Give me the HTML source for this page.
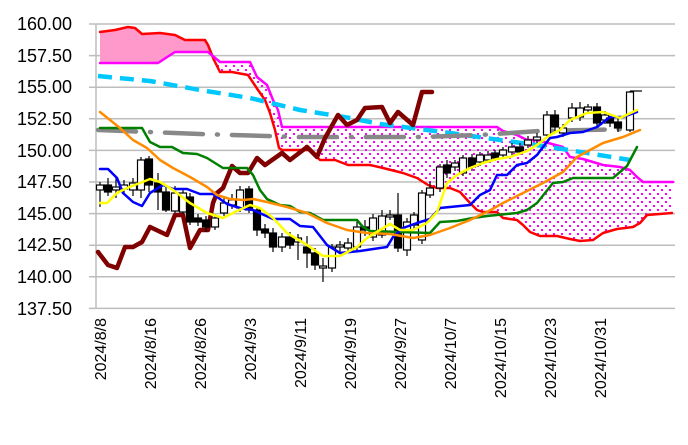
<!DOCTYPE html>
<html><head><meta charset="utf-8"><style>
html,body{margin:0;padding:0;background:#fff;}
svg{display:block;}
text{font-family:"Liberation Sans",sans-serif;}
</style></head><body>
<svg width="688" height="445" viewBox="0 0 688 445" xmlns="http://www.w3.org/2000/svg">
<defs>
<pattern id="dots" width="8" height="8" patternUnits="userSpaceOnUse">
<rect x="1" y="1" width="2" height="2" fill="#f0f"/>
<rect x="5" y="5" width="2" height="2" fill="#f0f"/>
</pattern>
<clipPath id="cl"><rect x="0" y="0" width="213" height="445"/></clipPath>
<clipPath id="cr"><rect x="213" y="0" width="475" height="445"/></clipPath>
</defs>
<g stroke="#bdbdbd" stroke-width="1.5">
<line x1="89" y1="24" x2="675" y2="24"/><line x1="89" y1="55.6" x2="675" y2="55.6"/>
<line x1="89" y1="87.2" x2="675" y2="87.2"/><line x1="89" y1="118.8" x2="675" y2="118.8"/>
<line x1="89" y1="150.4" x2="675" y2="150.4"/><line x1="89" y1="182" x2="675" y2="182"/>
<line x1="89" y1="213.6" x2="675" y2="213.6"/><line x1="89" y1="245.2" x2="675" y2="245.2"/>
<line x1="89" y1="276.8" x2="675" y2="276.8"/><line x1="89" y1="308.4" x2="675" y2="308.4"/>
<line x1="96" y1="24" x2="96" y2="308.4"/>
</g>
<g font-size="18" text-anchor="end" fill="#000">
<text x="72" y="30">160.00</text><text x="72" y="62">157.50</text><text x="72" y="93">155.00</text>
<text x="72" y="125">152.50</text><text x="72" y="157">150.00</text><text x="72" y="188">147.50</text>
<text x="72" y="220">145.00</text><text x="72" y="251">142.50</text><text x="72" y="283">140.00</text>
<text x="72" y="315">137.50</text>
</g>
<g font-size="16" text-anchor="end" fill="#000">
<text transform="translate(106,318) rotate(-90)">2024/8/8</text>
<text transform="translate(156,318) rotate(-90)">2024/8/16</text>
<text transform="translate(206,318) rotate(-90)">2024/8/26</text>
<text transform="translate(256,318) rotate(-90)">2024/9/3</text>
<text transform="translate(306,318) rotate(-90)">2024/9/11</text>
<text transform="translate(356,318) rotate(-90)">2024/9/19</text>
<text transform="translate(406,318) rotate(-90)">2024/9/27</text>
<text transform="translate(456,318) rotate(-90)">2024/10/7</text>
<text transform="translate(506,318) rotate(-90)">2024/10/15</text>
<text transform="translate(556,318) rotate(-90)">2024/10/23</text>
<text transform="translate(606,318) rotate(-90)">2024/10/31</text>
</g>
<g>
<polygon clip-path="url(#cl)" fill="#ff99cc" points="100,32 115,30 128,27 135,28 142,34 160,33 175,35 185,40 205,40 208,45 214,60 220,72 232,72 248,75 258,90 265,100 270,113 275,130 279,148 282,150 300,150 310,150 320,160 335,160 348,165 370,165 383,168 403,173 417,178 428,185 437,188 450,188 460,192 470,203 477,210 483,212 497,212 503,218 517,220 523,225 530,232 540,236 557,236 570,239 580,241 593,240 603,233 617,229 633,227 640,223 647,215 672,213 673,182 643,182 637,177 630,170 620,167 603,165 583,159 570,157 563,147 537,140 527,140 517,135 503,131 497,127 282,127 278,110 273,100 267,85 257,77 250,62 220,62 208,52 175,52 158,63 100,63"/>
<polygon clip-path="url(#cr)" fill="url(#dots)" points="100,32 115,30 128,27 135,28 142,34 160,33 175,35 185,40 205,40 208,45 214,60 220,72 232,72 248,75 258,90 265,100 270,113 275,130 279,148 282,150 300,150 310,150 320,160 335,160 348,165 370,165 383,168 403,173 417,178 428,185 437,188 450,188 460,192 470,203 477,210 483,212 497,212 503,218 517,220 523,225 530,232 540,236 557,236 570,239 580,241 593,240 603,233 617,229 633,227 640,223 647,215 672,213 673,182 643,182 637,177 630,170 620,167 603,165 583,159 570,157 563,147 537,140 527,140 517,135 503,131 497,127 282,127 278,110 273,100 267,85 257,77 250,62 220,62 208,52 175,52 158,63 100,63"/>
</g>
<g fill="none" stroke-linejoin="round" stroke-linecap="round">
<polyline stroke="#ff0000" stroke-width="2.5" points="100,32 115,30 128,27 135,28 142,34 160,33 175,35 185,40 205,40 208,45 214,60 220,72 232,72 248,75 258,90 265,100 270,113 275,130 279,148 282,150 300,150 310,150 320,160 335,160 348,165 370,165 383,168 403,173 417,178 428,185 437,188 450,188 460,192 470,203 477,210 483,212 497,212 503,218 517,220 523,225 530,232 540,236 557,236 570,239 580,241 593,240 603,233 617,229 633,227 640,223 647,215 672,213"/>
<polyline stroke="#ff00ff" stroke-width="2.5" points="100,63 158,63 175,52 208,52 220,62 250,62 257,77 267,85 273,100 278,110 282,127 497,127 503,131 517,135 527,140 537,140 563,147 570,157 583,159 603,165 620,167 630,170 637,177 643,182 673,182"/>
<polyline stroke="#00c8ff" stroke-width="4.5" stroke-dasharray="14 8" stroke-linecap="butt" points="98,76 150,81 200,90 250,98 300,110 350,118 380,124 450,133 500,140 550,147 630,160"/>
<polyline stroke="#888" stroke-width="4.5" stroke-dasharray="38 14 1 14" points="98,130 200,134 300,137 420,137 480,135 540,131 632,129"/>
<polyline stroke="#800000" stroke-width="4.5" points="98,252 108,265 117,268 125,247 133,247 142,242 150,227 167,235 175,215 183,215 190,248 200,230 208,230 213,203 217,193 223,188 232,166 240,173 248,173 257,158 265,165 282,153 290,160 307,147 317,157 325,138 338,115 347,125 357,120 365,108 382,107 390,123 398,112 413,125 422,92 432,92"/>
</g>
<g stroke="#000" stroke-width="1.2">
<line x1="100" y1="182" x2="100" y2="207"/><rect x="96.5" y="185" width="7" height="5" fill="#fff"/>
<line x1="108" y1="178" x2="108" y2="196"/><rect x="104.5" y="185" width="7" height="7" fill="#000"/>
<line x1="116" y1="178" x2="116" y2="198"/><rect x="112.5" y="187" width="7" height="3" fill="#fff"/>
<line x1="124" y1="180" x2="124" y2="195"/><rect x="120.5" y="185" width="7" height="4" fill="#fff"/>
<line x1="133" y1="178" x2="133" y2="196"/><rect x="129.5" y="183" width="7" height="7" fill="#fff"/>
<line x1="141" y1="157" x2="141" y2="198"/><rect x="137.5" y="160" width="7" height="30" fill="#fff"/>
<line x1="149" y1="156" x2="149" y2="192"/><rect x="145.5" y="159" width="7" height="26" fill="#000"/>
<line x1="158" y1="173" x2="158" y2="210"/><rect x="154.5" y="183" width="7" height="9" fill="#000"/>
<line x1="166" y1="186" x2="166" y2="212"/><rect x="162.5" y="192" width="7" height="18" fill="#000"/>
<line x1="175" y1="186" x2="175" y2="213"/><rect x="171.5" y="193" width="7" height="18" fill="#fff"/>
<line x1="183" y1="190" x2="183" y2="214"/><rect x="179.5" y="193" width="7" height="19" fill="#fff"/>
<line x1="190" y1="193" x2="190" y2="225"/><rect x="186.5" y="197" width="7" height="25" fill="#000"/>
<line x1="198" y1="214" x2="198" y2="226"/><rect x="194.5" y="218" width="7" height="4" fill="#000"/>
<line x1="206" y1="216" x2="206" y2="232"/><rect x="202.5" y="220" width="7" height="7" fill="#000"/>
<line x1="215" y1="214" x2="215" y2="230"/><rect x="211.5" y="218" width="7" height="9" fill="#fff"/>
<line x1="224" y1="198" x2="224" y2="216"/><rect x="220.5" y="203" width="7" height="10" fill="#fff"/>
<line x1="232" y1="194" x2="232" y2="209"/><rect x="228.5" y="200" width="7" height="5" fill="#fff"/>
<line x1="240" y1="186" x2="240" y2="212"/><rect x="236.5" y="190" width="7" height="18" fill="#fff"/>
<line x1="249" y1="186" x2="249" y2="213"/><rect x="245.5" y="189" width="7" height="21" fill="#000"/>
<line x1="257" y1="206" x2="257" y2="236"/><rect x="253.5" y="210" width="7" height="20" fill="#000"/>
<line x1="265" y1="224" x2="265" y2="238"/><rect x="261.5" y="229" width="7" height="4" fill="#000"/>
<line x1="273" y1="228" x2="273" y2="252"/><rect x="269.5" y="233" width="7" height="14" fill="#000"/>
<line x1="282" y1="233" x2="282" y2="252"/><rect x="278.5" y="237" width="7" height="10" fill="#fff"/>
<line x1="290" y1="232" x2="290" y2="249"/><rect x="286.5" y="237" width="7" height="8" fill="#000"/>
<line x1="298" y1="234" x2="298" y2="260"/><rect x="294.5" y="238" width="7" height="4" fill="#fff"/>
<line x1="307" y1="236" x2="307" y2="268"/><rect x="303.5" y="247" width="7" height="6" fill="#000"/>
<line x1="315" y1="248" x2="315" y2="270"/><rect x="311.5" y="253" width="7" height="12" fill="#000"/>
<line x1="323" y1="258" x2="323" y2="282"/><rect x="319.5" y="266" width="7" height="2" fill="#fff"/>
<line x1="332" y1="244" x2="332" y2="272"/><rect x="328.5" y="247" width="7" height="21" fill="#fff"/>
<line x1="340" y1="241" x2="340" y2="252"/><rect x="336.5" y="245" width="7" height="2" fill="#fff"/>
<line x1="348" y1="238" x2="348" y2="253"/><rect x="344.5" y="243" width="7" height="5" fill="#fff"/>
<line x1="357" y1="221" x2="357" y2="252"/><rect x="353.5" y="227" width="7" height="20" fill="#fff"/>
<line x1="365" y1="220" x2="365" y2="236"/><rect x="361.5" y="227" width="7" height="3" fill="#000"/>
<line x1="373" y1="214" x2="373" y2="241"/><rect x="369.5" y="218" width="7" height="19" fill="#fff"/>
<line x1="382" y1="210" x2="382" y2="238"/><rect x="378.5" y="216" width="7" height="19" fill="#fff"/>
<line x1="390" y1="210" x2="390" y2="220"/><rect x="386.5" y="215" width="7" height="2" fill="#fff"/>
<line x1="398" y1="193" x2="398" y2="252"/><rect x="394.5" y="215" width="7" height="33" fill="#000"/>
<line x1="407" y1="218" x2="407" y2="256"/><rect x="403.5" y="222" width="7" height="28" fill="#fff"/>
<line x1="414" y1="212" x2="414" y2="230"/><rect x="410.5" y="215" width="7" height="10" fill="#fff"/>
<line x1="422" y1="190" x2="422" y2="244"/><rect x="418.5" y="193" width="7" height="47" fill="#fff"/>
<line x1="430" y1="182" x2="430" y2="198"/><rect x="426.5" y="188" width="7" height="7" fill="#fff"/>
<line x1="440" y1="164" x2="440" y2="192"/><rect x="436.5" y="167" width="7" height="21" fill="#fff"/>
<line x1="447" y1="160" x2="447" y2="178"/><rect x="443.5" y="165" width="7" height="8" fill="#000"/>
<line x1="455" y1="160" x2="455" y2="171"/><rect x="451.5" y="163" width="7" height="4" fill="#fff"/>
<line x1="463" y1="155" x2="463" y2="176"/><rect x="459.5" y="158" width="7" height="15" fill="#fff"/>
<line x1="472" y1="154" x2="472" y2="171"/><rect x="468.5" y="158" width="7" height="9" fill="#000"/>
<line x1="480" y1="152" x2="480" y2="166"/><rect x="476.5" y="155" width="7" height="7" fill="#fff"/>
<line x1="488" y1="151" x2="488" y2="163"/><rect x="484.5" y="155" width="7" height="5" fill="#fff"/>
<line x1="495" y1="150" x2="495" y2="161"/><rect x="491.5" y="153" width="7" height="5" fill="#000"/>
<line x1="503" y1="147" x2="503" y2="158"/><rect x="499.5" y="150" width="7" height="5" fill="#fff"/>
<line x1="512" y1="143" x2="512" y2="156"/><rect x="508.5" y="147" width="7" height="5" fill="#fff"/>
<line x1="520" y1="143" x2="520" y2="155"/><rect x="516.5" y="147" width="7" height="5" fill="#000"/>
<line x1="528" y1="136" x2="528" y2="148"/><rect x="524.5" y="140" width="7" height="5" fill="#fff"/>
<line x1="537" y1="133" x2="537" y2="143"/><rect x="533.5" y="137" width="7" height="3" fill="#fff"/>
<line x1="547" y1="111" x2="547" y2="138"/><rect x="543.5" y="115" width="7" height="20" fill="#fff"/>
<line x1="555" y1="110" x2="555" y2="131"/><rect x="551.5" y="115" width="7" height="12" fill="#000"/>
<line x1="563" y1="124" x2="563" y2="137"/><rect x="559.5" y="128" width="7" height="5" fill="#fff"/>
<line x1="572" y1="103" x2="572" y2="122"/><rect x="568.5" y="108" width="7" height="10" fill="#fff"/>
<line x1="580" y1="102" x2="580" y2="121"/><rect x="576.5" y="108" width="7" height="9" fill="#fff"/>
<line x1="588" y1="104" x2="588" y2="113"/><rect x="584.5" y="107" width="7" height="3" fill="#fff"/>
<line x1="597" y1="103" x2="597" y2="127"/><rect x="593.5" y="107" width="7" height="16" fill="#000"/>
<line x1="605" y1="111" x2="605" y2="124"/><rect x="601.5" y="115" width="7" height="5" fill="#fff"/>
<line x1="610" y1="114" x2="610" y2="127"/><rect x="606.5" y="118" width="7" height="5" fill="#000"/>
<line x1="618" y1="118" x2="618" y2="132"/><rect x="614.5" y="122" width="7" height="6" fill="#000"/>
<line x1="630" y1="91" x2="630" y2="132"/><rect x="626.5" y="92" width="7" height="38" fill="#fff"/>
<line x1="630" y1="91" x2="642" y2="91"/>
</g>
<g fill="none" stroke-linejoin="round" stroke-linecap="round">
<polyline stroke="#008000" stroke-width="2.5" points="100,128 142,128 150,142 160,147 172,147 183,153 197,154 207,158 223,168 247,168 253,175 260,190 267,199 280,205 290,206 300,212 310,213 323,220 357,220 363,227 370,231 430,233 440,222 457,221 473,218 487,216 497,215 517,213 527,210 537,203 553,183 563,182 573,178 613,178 627,166 637,147"/>
<polyline stroke="#0000ff" stroke-width="2.5" points="100,169 108,169 117,178 123,193 133,202 142,206 150,193 163,185 173,189 187,189 200,194 213,194 227,204 240,208 253,210 273,219 290,219 300,226 313,227 327,245 340,253 360,251 380,248 387,247 393,237 403,228 417,223 430,219 440,208 450,207 470,205 480,195 490,190 497,175 507,175 517,165 527,163 537,155 543,147 550,138 557,137 570,133 583,132 597,127 610,117 623,117 637,112"/>
<polyline stroke="#ff8c00" stroke-width="2.5" points="100,112 120,128 133,140 147,148 160,160 173,168 190,177 207,187 217,195 230,199 243,200 253,199 267,202 287,207 307,213 327,223 347,230 367,233 390,234 413,238 430,235 450,228 470,220 487,212 503,203 523,193 543,183 563,172 577,157 590,150 603,143 623,137 640,130"/>
<polyline stroke="#ffff00" stroke-width="2.5" points="100,203 107,203 117,193 127,188 140,183 150,179 160,182 173,190 190,203 207,213 223,218 237,211 250,205 260,208 273,218 287,233 307,245 323,256 340,256 357,247 367,238 380,230 390,224 400,230 413,230 427,223 437,212 447,183 457,175 470,168 483,163 497,159 510,157 527,151 537,145 550,135 560,130 570,120 587,113 603,112 620,118 637,110"/>
</g>
</svg>
</body></html>
